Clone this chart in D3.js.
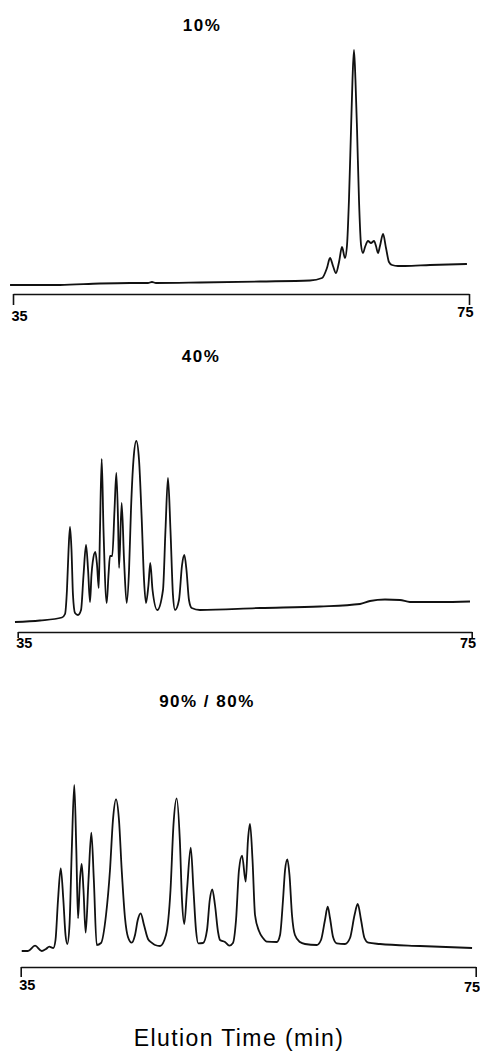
<!DOCTYPE html>
<html>
<head>
<meta charset="utf-8">
<script src="https://cdn.jsdelivr.net/npm/d3@7"></script>
<style>
  html, body { margin: 0; padding: 0; background: #fff; }
  svg { display: block; }
</style>
</head>
<body>
<svg id="chart" width="480" height="1052"></svg>
<script>
// ---------------- DATA ----------------
const xTicks = [35, 75];
const panelTitles = ["10%", "40%", "90% / 80%"];
const xAxisTitle = "Elution Time (min)";

// 10% panel: elution time (min) / detector signal (arbitrary units)
const time10 = [34.74, 39.12, 42.63, 45.26, 46.84, 47.19, 47.54, 51.40, 56.67, 61.05,
  62.11, 62.54, 62.81, 63.07, 63.33, 63.60, 63.86, 64.12, 64.30, 64.47,
  64.65, 64.78, 64.91, 65.04, 65.18, 65.35, 65.53, 65.70, 65.88, 66.14,
  66.40, 66.67, 66.84, 67.02, 67.19, 67.46, 67.72, 67.98, 68.25, 68.77,
  69.39, 71.58, 74.82];
const signal10 = [2.5, 2.5, 3.25, 3.5, 3.5, 4, 3.5, 3.75, 4.25, 4.75,
  6, 11, 16, 12, 8.5, 14, 21.5, 16, 22.5, 45,
  80, 105, 120, 105, 80, 45, 22.5, 18.5, 21.5, 24.5,
  23.5, 24.5, 22, 18.5, 22, 28, 21, 14, 12.5, 12,
  12, 12.5, 13];

// 40% panel
const time40 = [34.76, 36.96, 38.90, 39.17, 39.34, 39.48, 39.61, 39.74, 39.87, 40.05,
  40.31, 40.58, 40.80, 41.02, 41.20, 41.37, 41.50, 41.61, 41.84, 41.99,
  42.14, 42.25, 42.40, 42.56, 42.84, 43.00, 43.13, 43.33, 43.53, 43.69,
  43.84, 43.93, 44.16, 44.37, 44.60, 44.81, 44.98, 45.20, 45.45, 45.69,
  45.93, 46.13, 46.30, 46.52, 46.68, 46.88, 47.30, 47.80, 48.02, 48.24,
  48.46, 48.68, 48.86, 49.21, 49.48, 49.68, 49.87, 50.09, 50.33, 51.06,
  56.35, 61.63, 65.16, 66.04, 67.36, 68.68, 69.56, 72.21, 74.85];
const signal40 = [1.5, 2.25, 3.75, 5.5, 17.5, 37.5, 49, 37.5, 15, 6,
  5, 7.5, 25, 40, 27.5, 11.5, 25, 31.5, 36.5, 30,
  18.5, 47.5, 83, 47.5, 11, 25, 34.5, 34.5, 57.5, 76,
  52.5, 28.5, 61, 32.5, 11, 27.5, 57.5, 82.5, 92, 82.5,
  52.5, 22.5, 11, 20, 31, 17.5, 7.5, 17.5, 47.5, 73.5,
  47.5, 15, 7.5, 12.5, 30, 35, 27.5, 12.5, 8.5, 7.5,
  8.5, 9.25, 10.5, 12, 12.75, 12.5, 11.5, 11.5, 11.75];

// 90% / 80% panel
const time90 = [35.09, 35.64, 36.26, 36.85, 37.22, 37.51, 37.87, 38.06, 38.28, 38.52,
  38.75, 38.94, 39.10, 39.29, 39.49, 39.71, 39.89, 40.04, 40.21, 40.36,
  40.52, 40.71, 40.96, 41.21, 41.43, 41.68, 42.06, 42.50, 42.85, 43.11,
  43.38, 43.64, 43.88, 44.17, 44.43, 44.76, 45.05, 45.29, 45.55, 45.84,
  46.19, 46.52, 46.81, 47.25, 47.77, 48.17, 48.43, 48.71, 48.99, 49.18,
  49.38, 49.62, 49.95, 50.19, 50.41, 50.61, 51.03, 51.38, 51.62, 51.84,
  52.08, 52.35, 52.52, 52.96, 53.34, 53.66, 53.93, 54.19, 54.46, 54.78,
  54.98, 55.16, 55.38, 55.60, 55.95, 56.30, 56.63, 57.51, 57.80, 58.06,
  58.24, 58.44, 58.63, 58.85, 59.11, 59.55, 59.99, 61.02, 61.40, 61.75,
  61.99, 62.19, 62.46, 62.78, 63.51, 63.95, 64.35, 64.63, 64.92, 65.22,
  65.56, 66.59, 70.10, 74.68];
const signal90 = [2, 2, 4.65, 2, 3, 4.15, 3.5, 7.5, 27.5, 43.35,
  27.5, 10, 5.5, 15, 52.5, 85, 52.5, 18.35, 37.5, 45.5,
  32.5, 11.15, 37.5, 61.15, 37.5, 5, 6, 20, 42.5, 67.5,
  77.85, 67.5, 42.5, 18.5, 9, 6.15, 10, 17.5, 20.85, 15,
  8, 6.15, 5, 4.5, 10, 32.5, 65, 78.35, 57.5, 27.5,
  15.5, 32.5, 53.65, 32.5, 12.5, 5.85, 6, 12.5, 27.5, 32.85,
  25, 11.5, 7.5, 6.5, 4.65, 6, 17.5, 42.5, 49.65, 36.65,
  57.5, 65.5, 47.5, 20, 12, 8.5, 6.65, 6.5, 10, 27.5,
  42.5, 47.85, 40, 20, 10, 6.5, 5.5, 5, 7.5, 17.5,
  24.15, 18.5, 9, 5.85, 5.5, 8.5, 20, 25.5, 17.5, 8.5,
  6.15, 5.5, 4.5, 3.5];

// ---------------- LAYOUT ----------------
const svg = d3.select("#chart");
const FONT = "'Liberation Sans', Arial, Helvetica, sans-serif";

const panels = [
  { title: panelTitles[0], time: time10, signal: signal10,
    x0: 13, x1: 469, base: 290, axisY: 294, tick: 11,
    titleX: 202, titleY: 31, lab35: 27, lab75: 23 },
  { title: panelTitles[1], time: time40, signal: signal40,
    x0: 17.7, x1: 471.7, base: 625, axisY: 632, tick: 6,
    titleX: 201, titleY: 362, lab35: 15.5, lab75: 15.5 },
  { title: panelTitles[2], time: time90, signal: signal90,
    x0: 20.7, x1: 475.7, base: 955, axisY: 967, tick: 10,
    titleX: 207, titleY: 707, lab35: 22.5, lab75: 25 }
];

panels.forEach(p => {
  const x = d3.scaleLinear().domain([35, 75]).range([p.x0, p.x1]);
  const y = d3.scaleLinear().domain([0, 100]).range([p.base, p.base - 200]);
  const pts = p.time.map((t, i) => [t, p.signal[i]]);

  const line = d3.line()
    .x(d => x(d[0]))
    .y(d => y(d[1]))
    .curve(d3.curveMonotoneX);

  svg.append("path")
    .datum(pts)
    .attr("d", line)
    .attr("fill", "none")
    .attr("stroke", "#111")
    .attr("stroke-width", 1.8)
    .attr("stroke-linejoin", "round");

  // axis
  const axis = d3.axisBottom(x)
    .tickValues(xTicks)
    .tickSize(p.tick)
    .tickSizeOuter(0)
    .tickFormat(d3.format("d"));

  const g = svg.append("g")
    .attr("transform", `translate(0,${p.axisY})`)
    .call(axis);
  g.select(".domain").attr("stroke", "#111").attr("stroke-width", 1.6);
  g.selectAll(".tick line").attr("stroke", "#111").attr("stroke-width", 1.6);
  g.selectAll(".tick text")
    .attr("font-family", FONT)
    .attr("font-weight", "bold")
    .attr("font-size", 14.5)
    .attr("fill", "#000")
    .attr("dy", 0)
    .attr("y", d => d === 35 ? p.lab35 : p.lab75)
    .attr("x", d => d === 35 ? -2 : 4)
    .attr("text-anchor", d => d === 35 ? "start" : "end");

  // panel title
  svg.append("text")
    .attr("x", p.titleX)
    .attr("y", p.titleY)
    .attr("text-anchor", "middle")
    .attr("font-family", FONT)
    .attr("font-weight", "bold")
    .attr("font-size", 17)
    .attr("letter-spacing", "1.5px")
    .attr("fill", "#000")
    .text(p.title);
});

svg.append("text")
  .attr("x", 239)
  .attr("y", 1046)
  .attr("text-anchor", "middle")
  .attr("font-family", FONT)
  .attr("font-size", 23)
  .attr("letter-spacing", "1.4px")
  .attr("fill", "#000")
  .text(xAxisTitle);
</script>
</body>
</html>
